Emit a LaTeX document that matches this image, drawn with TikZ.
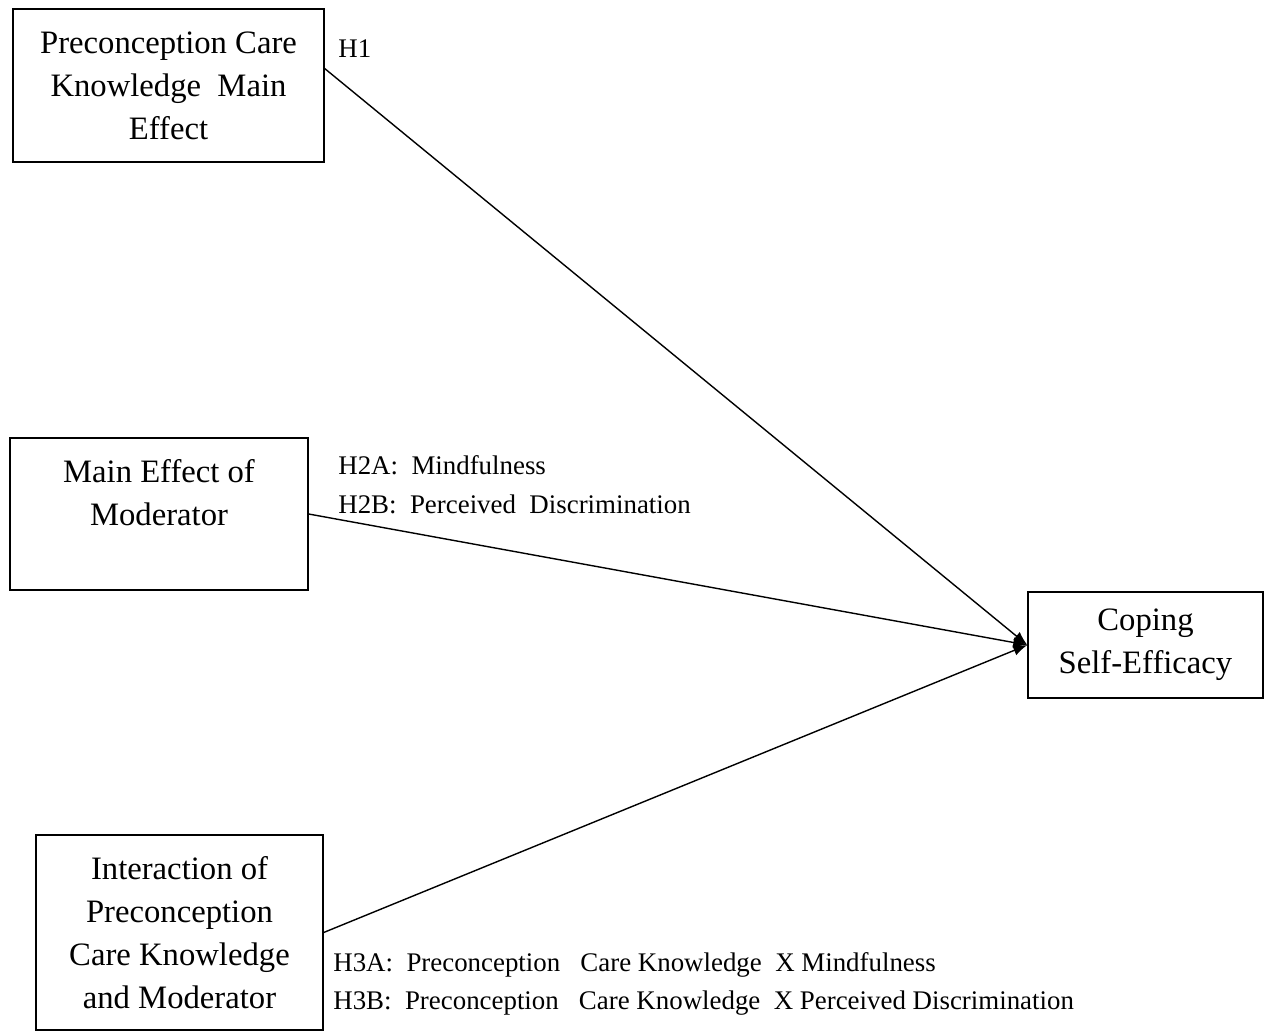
\documentclass[tikz,border=0pt]{standalone}
\usepackage{fontspec}
\setmainfont{Liberation Serif}
\usepackage{tikz}
\usetikzlibrary{arrows.meta,positioning,calc}

\begin{document}
\begin{tikzpicture}[
  x=0.02cm, y=-0.02cm,
  box/.style={rectangle, draw, line width=0.8pt, align=center, inner sep=0pt, font=\fontsize{18.6}{24.5}\selectfont},
  hyp/.style={anchor=west, align=left, inner sep=0pt, font=\fontsize{15.3}{22}\selectfont},
  arr/.style={-{Latex[length=8pt,width=6pt]}, line width=0.8pt}
]
\useasboundingbox (0,0) rectangle (1265,1032);

% Predictors
\node[box, minimum width=6.22cm, minimum height=3.06cm] (pcare) at (168.5,85.5) {Preconception Care\\Knowledge\ \ Main\\Effect};
\node[box, minimum width=5.96cm, minimum height=3.04cm] (moder) at (159,514) {Main Effect of\\Moderator\\~};
\node[box, minimum width=5.74cm, minimum height=3.9cm] (inter) at (179.5,932.5) {Interaction of\\Preconception\\Care Knowledge\\and Moderator};

% Outcome
\node[box, minimum width=4.7cm, minimum height=2.12cm] (cse) at (1145.5,645) {Coping\\Self-Efficacy};

% Paths
\draw[arr] ([yshift=0.34cm]pcare.east) -- (cse.west);
\draw[arr] (moder.east) -- (cse.west);
\draw[arr] (inter.east) -- (cse.west);

% Hypotheses
\node[hyp] (h1) at (338,49) {H1};
\node[hyp] (h2) at (338,485) {H2A:\ \ Mindfulness\\H2B:\ \ Perceived\ \ Discrimination};
\node[hyp] (h3) at (333,984) {H3A:\ \ Preconception\ \ \ Care Knowledge\ \ X Mindfulness\\H3B:\ \ Preconception\ \ \ Care Knowledge\ \ X Perceived\ Discrimination};

\end{tikzpicture}
\end{document}
